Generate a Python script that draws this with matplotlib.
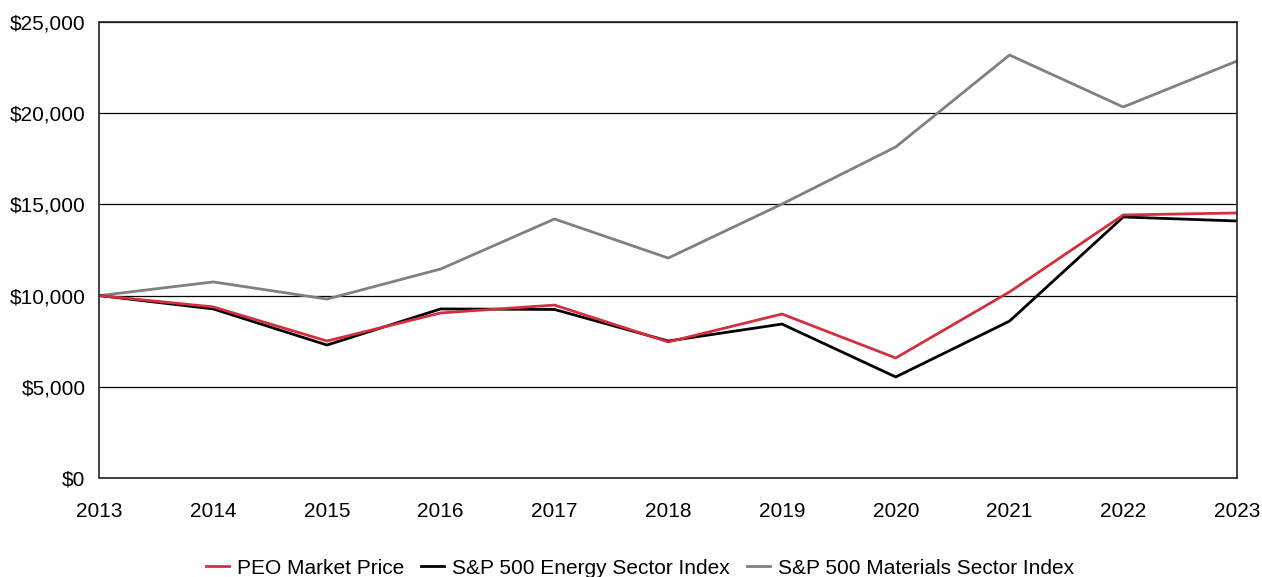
import matplotlib
matplotlib.use("Agg")
import matplotlib.pyplot as plt
from matplotlib.ticker import FuncFormatter

plt.rcParams["font.family"] = ["Liberation Sans", "DejaVu Sans"]

years = list(range(2013, 2024))
peo_price = [10000, 9380, 7510, 9050, 9480, 7460, 8990, 6580, 10200, 14420, 14530]
energy_index = [10000, 9270, 7290, 9270, 9240, 7510, 8440, 5540, 8600, 14310, 14090]
materials_index = [10000, 10750, 9810, 11460, 14200, 12060, 15020, 18150, 23190, 20340, 22860]

fig = plt.figure(figsize=(12.62, 5.77), dpi=100)
ax = fig.add_axes([99.5 / 1262, 1 - 478 / 577, (1237 - 99.5) / 1262, (478 - 22) / 577])

ax.plot(years, materials_index, color="#808080", lw=2.0, label="S&P 500 Materials Sector Index")
ax.plot(years, energy_index, color="#000000", lw=2.0, label="S&P 500 Energy Sector Index")
ax.plot(years, peo_price, color="#d2303f", lw=2.0, label="PEO Market Price")

ax.set_xlim(2013, 2023)
ax.set_ylim(0, 25000)
ax.set_xticks(years)
ax.set_yticks(range(0, 25001, 5000))
ax.yaxis.set_major_formatter(FuncFormatter(lambda v, p: f"${v:,.0f}"))
ax.grid(axis="y", color="black", lw=0.9)
ax.set_axisbelow(True)
ax.tick_params(length=0, labelsize=15)
ax.tick_params(axis="x", pad=17)
ax.tick_params(axis="y", pad=10)
for s in ax.spines.values():
    s.set_color("#222222")
    s.set_linewidth(1.2)

h, l = ax.get_legend_handles_labels()
order = [2, 1, 0]
fig.legend([h[i] for i in order], [l[i] for i in order], loc="center",
           bbox_to_anchor=(640 / 1262, 1 - 568 / 577), ncol=3, frameon=False, fontsize=15,
           handlelength=1.1, handletextpad=0.4, columnspacing=0.8)

fig.savefig("out.png", dpi=100)
